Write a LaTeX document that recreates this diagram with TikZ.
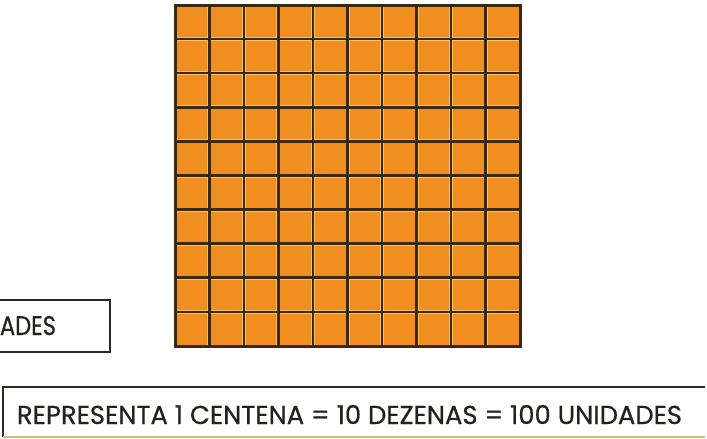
\documentclass[tikz,border=0pt]{standalone}
\usepackage{fontspec}
\usepackage{graphicx}
\usetikzlibrary{calc}
\newfontfamily\gothic[FakeBold=0.6]{Poppins}
\definecolor{cellorange}{RGB}{240,143,32}
\definecolor{gridline}{RGB}{58,40,16}
\definecolor{halo}{RGB}{250,196,90}
\definecolor{boxline}{RGB}{45,40,35}
\definecolor{paleline}{RGB}{210,185,125}
\definecolor{textcol}{RGB}{38,33,28}
\tikzset{
  gridbox/.style={draw=gridline, line width=3pt, fill=cellorange, inner sep=0pt, outer sep=0pt,
    minimum width=345pt, minimum height=341pt, anchor=north west},
  haloline/.style={halo, line width=4pt},
  cellline/.style={gridline, line width=2.6pt},
  framebox/.style={draw=boxline, line width=1.6pt, inner sep=0pt, outer sep=0pt},
  plainbox/.style={draw=none, inner sep=0pt, outer sep=0pt},
  boxedge/.style={boxline, line width=1.6pt},
  faintedge/.style={paleline, line width=1.4pt},
  label/.style={inner sep=0pt, outer sep=0pt, text=textcol}
}
\begin{document}
\begin{tikzpicture}[x=1pt,y=-1pt]
\useasboundingbox (0,0) rectangle (707,439);
\clip (0,0) rectangle (707,439);
\fill[white] (0,0) rectangle (707,439);

% hundred square
\node (grid) [gridbox] at (175,5) {};
\foreach \i in {1,...,9} {
  \draw[haloline] ($(grid.north west)!\i/10!(grid.north east)$) -- ($(grid.south west)!\i/10!(grid.south east)$);
  \draw[haloline] ($(grid.north west)!\i/10!(grid.south west)$) -- ($(grid.north east)!\i/10!(grid.south east)$);
}
\foreach \i in {1,...,9} {
  \draw[cellline] ($(grid.north west)!\i/10!(grid.north east)$) -- ($(grid.south west)!\i/10!(grid.south east)$);
  \draw[cellline] ($(grid.north west)!\i/10!(grid.south west)$) -- ($(grid.north east)!\i/10!(grid.south east)$);
}
\draw[gridline, line width=3pt] (grid.north west) rectangle (grid.south east);

% left box (cut by the picture edge)
\node (leftbox) [framebox, anchor=north east, minimum width=125pt, minimum height=52pt] at (110,300) {};
\node (adestext) [label, anchor=base east] at (56,335) {\resizebox{56pt}{19pt}{\gothic ADES}};

% bottom box
\node (bottombox) [plainbox, anchor=north west, minimum width=702pt, minimum height=50pt] at (3,387) {};
\draw[boxedge] (bottombox.south west) -- (bottombox.north west) -- (bottombox.north east);
\draw[faintedge] (bottombox.south west) -- (bottombox.south east);
\node (caption) [label, anchor=base west] at (17,424) {\resizebox{665pt}{19pt}{\gothic REPRESENTA 1 CENTENA = 10 DEZENAS = 100 UNIDADES}};
\end{tikzpicture}
\end{document}
